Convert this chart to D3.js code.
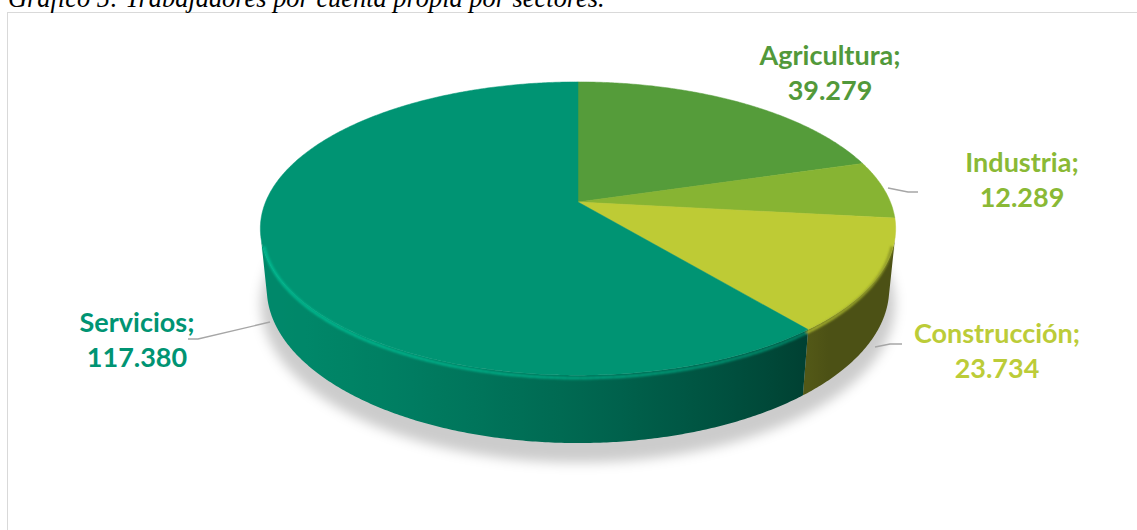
<!DOCTYPE html>
<html>
<head>
<meta charset="utf-8">
<script src="https://cdn.jsdelivr.net/npm/d3@7"></script>
<style>
  html, body { margin: 0; padding: 0; background: #ffffff; }
  svg { display: block; }
</style>
</head>
<body>
<svg id="chart" width="1137" height="530"></svg>
<script>
// Trabajadores por cuenta propia, por sector
const sectores = ["Agricultura", "Industria", "Construcción", "Servicios"];
const valores = [39279, 12289, 23734, 117380];
const etiquetasValor = ["39.279", "12.289", "23.734", "117.380"];
const colores = ["#559c3a", "#87b433", "#becb35", "#009473"];
const coloresTexto = ["#52993a", "#8ab935", "#bccc38", "#009473"];

const W = 1137, H = 530;
const svg = d3.select("#chart");

// ---- 3D pie geometry (perspective camera looking down at a tilted disc) ----
const cam = {
  cx: 578, cy: 202,       // screen position of the disc centre
  f: 1537,                // focal length in px
  D: 4.92,                // camera distance (disc radius = 1)
  tilt: 27 * Math.PI / 180,
  h: 0.217                // disc thickness
};
const cs = Math.cos(cam.tilt), sn = Math.sin(cam.tilt);

// phi: pie angle (0 at back, clockwise seen from above), y: height (0 top, -h bottom)
function project(phi, r, y) {
  const x = r * Math.sin(phi), z = -r * Math.cos(phi);
  const v = z * sn - y * cs;
  const w = cam.D - z * cs - y * sn;
  return [cam.cx + cam.f * x / w, cam.cy + cam.f * v / w];
}

const pie = d3.pie().sort(null).value(d => d).startAngle(0).endAngle(2 * Math.PI);
const arcs = pie(valores);

const defs = svg.append("defs");
defs.append("filter").attr("id", "sombra")
  .attr("x", "-20%").attr("y", "-20%").attr("width", "140%").attr("height", "140%")
  .append("feGaussianBlur").attr("stdDeviation", 6);
defs.append("filter").attr("id", "suave")
  .attr("x", "-10%").attr("y", "-10%").attr("width", "120%").attr("height", "120%")
  .append("feGaussianBlur").attr("stdDeviation", 1.2);

// chart frame
svg.append("rect")
  .attr("x", 7.5).attr("y", 12.5)
  .attr("width", W + 20).attr("height", H + 20)
  .attr("fill", "#ffffff").attr("stroke", "#d9d9d9").attr("stroke-width", 1);

// title (sits above the frame)
svg.append("text")
  .attr("x", 8).attr("y", 7)
  .attr("font-family", "'Liberation Serif', 'Times New Roman', serif")
  .attr("font-style", "italic")
  .attr("font-size", 26.4)
  .attr("fill", "#000000")
  .text("Gráfico 5: Trabajadores por cuenta propia por sectores.");

const line = d3.line();
const step = Math.PI / 360;
function angles(a0, a1) {
  const n = Math.max(2, Math.ceil((a1 - a0) / step));
  return d3.range(n + 1).map(i => a0 + (a1 - a0) * i / n);
}

// drop shadow under the disc
const baseOutline = angles(0, 2 * Math.PI).map(a => project(a, 1.02, -cam.h - 0.02));
svg.append("path")
  .attr("d", line(baseOutline) + "Z")
  .attr("transform", "translate(0,9)")
  .attr("fill", "#000000").attr("fill-opacity", 0.2)
  .attr("filter", "url(#sombra)");

// light coming from the front-left
const L = [-0.894, 0, 0.447];
function shade(phi) {
  const nx = Math.sin(phi), nz = -Math.cos(phi);
  return nx * L[0] + nz * L[2];
}
function scaleColor(col, k) {
  const c = d3.rgb(col);
  return d3.rgb(Math.min(255, c.r * k), Math.min(255, c.g * k), Math.min(255, c.b * k)).formatHex();
}

// visible part of the side wall: between the two silhouette lines of the cylinder
const silo = Math.acos(-1 / (cam.D * cs));
const lo = silo, hi = 2 * Math.PI - silo;

const walls = [];
arcs.forEach((d, i) => {
  const a0 = Math.max(d.startAngle, lo), a1 = Math.min(d.endAngle, hi);
  if (a1 <= a0) return;
  walls.push({ i, a0, a1 });
});

// horizontal gradient per wall, shaded from the surface normal
walls.forEach(wl => {
  const xA = project(wl.a0, 1, 0)[0], xB = project(wl.a1, 1, 0)[0];
  const g = defs.append("linearGradient")
    .attr("id", "pared" + wl.i)
    .attr("gradientUnits", "userSpaceOnUse")
    .attr("x1", xA).attr("y1", 0).attr("x2", xB).attr("y2", 0);
  const samples = angles(wl.a0, wl.a1).filter((_, k, arr) => k % 6 === 0 || k === arr.length - 1);
  samples.forEach(a => {
    const x = project(a, 1, 0)[0];
    const off = xB === xA ? 0 : (x - xA) / (xB - xA);
    g.append("stop")
      .attr("offset", Math.max(0, Math.min(1, off)))
      .attr("stop-color", scaleColor(colores[wl.i], Math.max(0.4, 0.52 + 0.4 * shade(a))));
  });
});

svg.append("g").selectAll("path").data(walls).join("path")
  .attr("d", wl => {
    const as = angles(wl.a0, wl.a1);
    const top = as.map(a => project(a, 1, 0));
    const bot = as.slice().reverse().map(a => project(a, 1, -cam.h));
    return line(top.concat(bot)) + "Z";
  })
  .attr("fill", wl => `url(#pared${wl.i})`);

// top faces
svg.append("g").selectAll("path").data(arcs).join("path")
  .attr("d", d => {
    const pts = [project(0, 0, 0)]
      .concat(angles(d.startAngle, d.endAngle).map(a => project(a, 1, 0)));
    return line(pts) + "Z";
  })
  .attr("fill", (d, i) => colores[i])
  .attr("stroke", (d, i) => colores[i])
  .attr("stroke-width", 0.5);

// rounded rim along the front edge
const rim = svg.append("g").attr("filter", "url(#suave)");
arcs.forEach((d, i) => {
  const a0 = Math.max(d.startAngle, lo + 0.05), a1 = Math.min(d.endAngle, hi - 0.05);
  if (a1 <= a0) return;
  const as = angles(a0, a1);
  for (let k = 0; k < as.length - 1; k += 2) {
    const seg = [as[k], as[Math.min(k + 2, as.length - 1)]];
    const m = (seg[0] + seg[1]) / 2;
    const kk = 0.95 + 0.3 * shade(m);
    rim.append("path")
      .attr("d", line(seg.map(a => project(a, 0.995, -0.012))))
      .attr("fill", "none")
      .attr("stroke", scaleColor(colores[i], kk))
      .attr("stroke-width", 3);
  }
});

// leader lines
const leaders = [
  [[888, 188], [908, 192], [918, 192]],
  [[875, 347], [890, 344], [902, 344]],
  [[270, 322], [198, 339], [188, 339]]
];
svg.append("g").selectAll("path").data(leaders).join("path")
  .attr("d", d => line(d))
  .attr("fill", "none")
  .attr("stroke", "#a6a6a6")
  .attr("stroke-width", 1.3);

// data labels
const labelPos = [[830, 65], [1022, 172], [997, 343], [137, 332]];
const lab = svg.append("g")
  .attr("font-family", "Lato, 'Open Sans', sans-serif")
  .attr("font-weight", "bold")
  .attr("font-size", 27)
  .attr("text-anchor", "middle");
sectores.forEach((s, i) => {
  const t = lab.append("text")
    .attr("x", labelPos[i][0]).attr("y", labelPos[i][1])
    .attr("fill", coloresTexto[i]);
  t.append("tspan").attr("x", labelPos[i][0]).text(s + ";");
  t.append("tspan").attr("x", labelPos[i][0]).attr("dy", 34.5).text(etiquetasValor[i]);
});
</script>
</body>
</html>
